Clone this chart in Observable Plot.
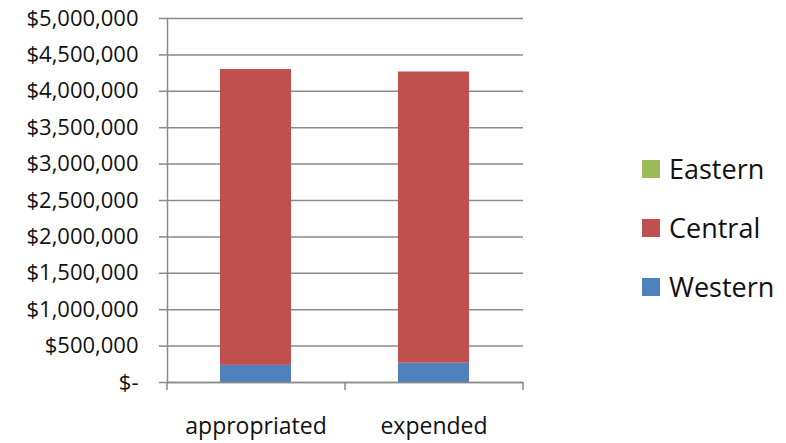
<!DOCTYPE html>
<html><head><meta charset="utf-8">
<script src="https://cdn.jsdelivr.net/npm/d3@7"></script>
<script src="https://cdn.jsdelivr.net/npm/@observablehq/plot@0.6"></script>
<style>
body{margin:0;background:#fff;}
#wrap{position:relative;width:786px;height:443px;font-family:"Open Sans",sans-serif;}
#legend{position:absolute;left:642px;top:139px;}
#legend .lg-swatches{font-family:"Open Sans",sans-serif !important;font-size:27px !important;color:#111;margin:0 !important;}
#legend .lg-swatch{height:59px;padding:0 !important;display:flex;align-items:center;}
#legend .lg-swatch svg{margin-right:9px !important;}
</style></head><body><div id="wrap"><div id="legend"></div></div>
<script>
const categories = ["appropriated", "expended"];
const regions = ["Eastern", "Central", "Western"];
const eastern = [0, 0];
const central = [4065000, 4000000];
const western = [235000, 265000];
const yTicks = [0, 500000, 1000000, 1500000, 2000000, 2500000, 3000000, 3500000, 4000000, 4500000, 5000000];
const yTickLabels = ["$-", "$500,000", "$1,000,000", "$1,500,000", "$2,000,000", "$2,500,000", "$3,000,000", "$3,500,000", "$4,000,000", "$4,500,000", "$5,000,000"];
const colors = ["#9BBB59", "#C0504D", "#4F81BD"];

const data = [];
categories.forEach((c, i) => {
  data.push({category: c, region: "Western", value: western[i]});
  data.push({category: c, region: "Central", value: central[i]});
  data.push({category: c, region: "Eastern", value: eastern[i]});
});

const W = 786, H = 443, mL = 167, mR = 263, mT = 18, mB = 61;
const step = (W - mL - mR) / categories.length;
const gray = "#8a8a8a";

const chart = Plot.plot({
  width: W, height: H,
  marginLeft: mL, marginRight: mR, marginTop: mT, marginBottom: mB,
  style: {fontFamily: "Open Sans, sans-serif", background: "#fff", color: "#000", overflow: "visible"},
  x: {domain: categories, paddingInner: 0.6, paddingOuter: 0.3, label: null},
  y: {domain: [0, 5000000], label: null},
  color: {domain: regions, range: colors},
  marks: [
    Plot.gridY(yTicks, {stroke: gray, strokeOpacity: 1, strokeWidth: 1.5}),
    Plot.barY(data, {x: "category", y: "value", fill: "region", order: ["Western", "Central", "Eastern"]}),
    Plot.frame({anchor: "left", stroke: gray, strokeWidth: 1.5}),
    Plot.ruleY([0], {stroke: gray, strokeWidth: 1.5}),
    Plot.axisY(yTicks, {label: null, tickSize: 8, tickPadding: 21, fontSize: 22, fill: "#111", stroke: gray, strokeWidth: 1.5,
      tickFormat: d => yTickLabels[yTicks.indexOf(d)]}),
    Plot.axisX({label: null, tickSize: 0, tickPadding: 35, fontSize: 23, fill: "#111"}),
    Plot.axisX(categories, {label: null, tickSize: 8, tickFormat: () => "", dx: -step / 2, stroke: gray, strokeWidth: 1.5}),
    Plot.axisX([categories[categories.length - 1]], {label: null, tickSize: 8, tickFormat: () => "", dx: step / 2, stroke: gray, strokeWidth: 1.5})
  ]
});
document.getElementById("wrap").prepend(chart);

const legend = Plot.legend({
  color: {domain: regions, range: colors},
  legend: "swatches", columns: 1, swatchSize: 18, className: "lg"
});
document.getElementById("legend").append(legend);
</script>
</body></html>
